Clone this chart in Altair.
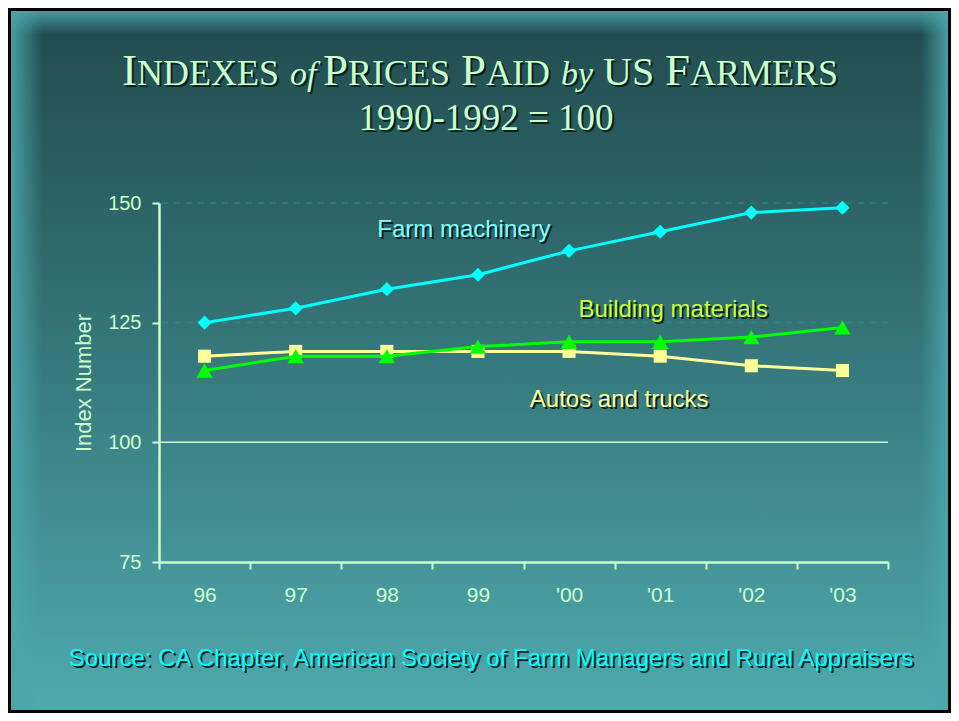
import altair as alt
import pandas as pd

# ---------------- data ----------------
years = ["96", "97", "98", "99", "'00", "'01", "'02", "'03"]
farm_machinery = [125, 128, 132, 135, 140, 144, 148, 149]
autos_and_trucks = [118, 119, 119, 119, 119, 118, 116, 115]
building_materials = [115, 118, 118, 120, 121, 121, 122, 124]

series_names = ["Autos and trucks", "Building materials", "Farm machinery"]
series_values = [autos_and_trucks, building_materials, farm_machinery]
series_colors = ["#ffff99", "#00ff00", "#00ffff"]
series_shapes = ["square", "triangle-up", "diamond"]
series_sizes = [170, 270, 200]

y_ticks = [75, 100, 125, 150]
dashed_grid = [125, 150]
solid_grid = [100]

# in-chart series labels (anchored in data units)
label_texts = ["Autos and trucks", "Building materials", "Farm machinery"]
label_years = ["'01", "'01", "99"]
label_values = [108.8, 127.6, 144.3]
label_dx = [-41, 13, -14]
label_colors = ["#ffff99", "#ccff33", "#80ffff"]

title_sub = "1990-1992 = 100"
source_text = "Source: CA Chapter, American Society of Farm Managers and Rural Appraisers"

# ---------------- layout ----------------
W, H = 729, 359
PL, PT, PR, PB = 151, 195, 63, 151
PALE = "#ccffcc"
SANS = "Liberation Sans"
SERIF = "Liberation Serif"
SHADOW = "#0a1e1e"


def px(x):  # page x -> plot x
    return x - 159


def py(y):  # page y -> plot y
    return y - 203


rows = []
for name, vals in zip(series_names, series_values):
    for yr, v in zip(years, vals):
        rows.append({"series": name, "year": yr, "value": v})
df = pd.DataFrame(rows)
one = pd.DataFrame({"k": [0]})

x_axis = alt.Axis(
    title=None, tickBand="extent", labelAngle=0, labelFont=SANS, labelFontSize=21,
    labelColor=PALE, labelPadding=15, tickSize=7, tickColor=PALE, tickWidth=2,
    domainColor=PALE, domainWidth=2.5, grid=False, zindex=1,
)
y_axis = alt.Axis(
    title="Index Number", values=y_ticks, labelFont=SANS, labelFontSize=20,
    labelColor=PALE, labelPadding=11, labelFlush=False, tickSize=7, tickColor=PALE,
    tickWidth=2, domainColor=PALE, domainWidth=2.5, grid=False, titleFont=SANS,
    titleFontSize=22, titleFontWeight="normal", titleColor=PALE, titlePadding=12,
    zindex=1,
)
x_scale = alt.Scale(type="band", domain=years, paddingInner=0, paddingOuter=0)
y_scale = alt.Scale(domain=[75, 150], nice=False, zero=False)


def xenc():
    return alt.X("year:N", sort=years, bandPosition=0.5, scale=x_scale, axis=x_axis)


def yenc(field="value"):
    return alt.Y(f"{field}:Q", scale=y_scale, axis=y_axis)


layers = []

# background gradient
bg = alt.Gradient(
    gradient="linear",
    stops=[alt.GradientStop(color="#214a4d", offset=0),
           alt.GradientStop(color="#2f6a6d", offset=0.35),
           alt.GradientStop(color="#4faaae", offset=1)],
    x1=0, x2=0, y1=0, y2=1,
)
layers.append(alt.Chart(one).mark_rect(fill=bg).encode(
    x=alt.value(-PL), x2=alt.value(W + PR), y=alt.value(-PT), y2=alt.value(H + PB)))

edge = "#4aa5aa"
clear = "rgba(74,165,170,0)"
left_g = alt.Gradient(gradient="linear", stops=[alt.GradientStop(color=edge, offset=0),
                                               alt.GradientStop(color=clear, offset=1)],
                      x1=0, x2=1, y1=0, y2=0)
right_g = alt.Gradient(gradient="linear", stops=[alt.GradientStop(color=clear, offset=0),
                                                alt.GradientStop(color=edge, offset=1)],
                       x1=0, x2=1, y1=0, y2=0)
top_g = alt.Gradient(gradient="linear", stops=[alt.GradientStop(color=edge, offset=0),
                                              alt.GradientStop(color=clear, offset=1)],
                     x1=0, x2=0, y1=0, y2=1)
layers.append(alt.Chart(one).mark_rect(fill=left_g).encode(
    x=alt.value(-PL), x2=alt.value(-PL + 34), y=alt.value(-PT), y2=alt.value(H + PB)))
layers.append(alt.Chart(one).mark_rect(fill=right_g).encode(
    x=alt.value(W + PR - 30), x2=alt.value(W + PR), y=alt.value(-PT), y2=alt.value(H + PB)))
layers.append(alt.Chart(one).mark_rect(fill=top_g).encode(
    x=alt.value(-PL), x2=alt.value(W + PR), y=alt.value(-PT), y2=alt.value(-PT + 26)))
layers.append(alt.Chart(one).mark_rect(fill=None, stroke="#000000", strokeWidth=3).encode(
    x=alt.value(-PL + 1.5), x2=alt.value(W + PR - 1.5),
    y=alt.value(-PT + 1.5), y2=alt.value(H + PB - 1.5)))

# gridlines
layers.append(alt.Chart(pd.DataFrame({"v": dashed_grid})).mark_rule(
    color="#2a8a8a", strokeWidth=1, strokeDash=[6, 6]).encode(y=yenc("v")))
layers.append(alt.Chart(pd.DataFrame({"v": solid_grid})).mark_rule(
    color=PALE, strokeWidth=1.5).encode(y=yenc("v")))

# series
for name, col, shp, sz in zip(series_names, series_colors, series_shapes, series_sizes):
    sub = df[df["series"] == name]
    layers.append(alt.Chart(sub).mark_line(color=col, strokeWidth=3).encode(
        x=xenc(), y=yenc()))
    layers.append(alt.Chart(sub).mark_point(
        shape=shp, filled=True, color=col, size=sz, opacity=1).encode(x=xenc(), y=yenc()))

# series labels
for t, yr, v, dx, col in zip(label_texts, label_years, label_values, label_dx, label_colors):
    ldf = pd.DataFrame({"year": [yr], "value": [v], "t": [t]})
    layers.append(alt.Chart(ldf).mark_text(
        font=SANS, fontSize=24, color=SHADOW, dx=dx + 2, dy=2, baseline="middle",
        align="center").encode(x=xenc(), y=yenc(), text="t:N"))
    layers.append(alt.Chart(ldf).mark_text(
        font=SANS, fontSize=24, color=col, dx=dx, baseline="middle",
        align="center").encode(x=xenc(), y=yenc(), text="t:N"))

# title (small caps composed of runs)
TNR = {"I": 333, "P": 556, "F": 556}
BIG, SMALL, ITAL = 45, 36, 34
runs = []  # (text, page_x, size, style)
for init, rest, x0 in [("I", "NDEXES", 122), ("P", "RICES", 323),
                       ("P", "AID", 461), ("F", "ARMERS", 665)]:
    runs.append((init, x0, BIG, "normal"))
    runs.append((rest, x0 + TNR[init] * BIG / 1000.0, SMALL, "normal"))
runs.append(("US", 603, 40, "normal"))
runs.append(("of", 290, ITAL, "italic"))
runs.append(("by", 561, ITAL, "italic"))
base1 = py(85)
for txt, x0, sz, st in runs:
    for colr, off in [(SHADOW, 2), (PALE, 0)]:
        layers.append(alt.Chart(one).mark_text(
            text=txt, font=SERIF, fontSize=sz, fontStyle=st, color=colr, align="left",
            baseline="alphabetic").encode(x=alt.value(px(x0) + off), y=alt.value(base1 + off)))
for colr, off in [(SHADOW, 2), (PALE, 0)]:
    layers.append(alt.Chart(one).mark_text(
        text=title_sub, font=SERIF, fontSize=37, color=colr, align="center",
        baseline="alphabetic").encode(x=alt.value(px(486) + off), y=alt.value(py(130) + off)))

# source
for colr, off in [(SHADOW, 2), ("#00ffff", 0)]:
    layers.append(alt.Chart(one).mark_text(
        text=source_text, font=SANS, fontSize=24, color=colr, align="center",
        baseline="middle").encode(x=alt.value(px(491) + off), y=alt.value(py(659) + off)))

chart = alt.layer(*layers).properties(
    width=W, height=H,
    padding={"left": PL, "top": PT, "right": PR, "bottom": PB},
    autosize=alt.AutoSizeParams(type="none"),
    background="#2f6a6d",
).configure_view(stroke=None)

chart.save("out.html", embed_options={"renderer": "svg", "actions": False})
